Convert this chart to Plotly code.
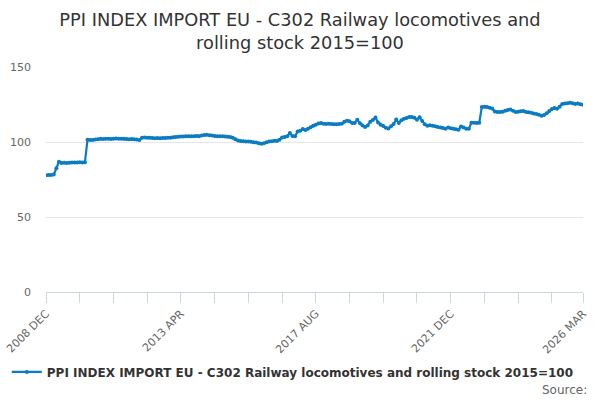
import pandas as pd
import plotly.graph_objects as go

title = "PPI INDEX IMPORT EU - C302 Railway locomotives and rolling stock 2015=100"

# monthly categories, 2008 DEC .. 2026 MAR
months = [d.strftime("%Y %b").upper() for d in pd.date_range("2008-12-01", "2026-03-01", freq="MS")]

# values, 10 per row
values = [
    77.8, 78.0, 78.0, 78.3, 82.5, 86.8, 86.0, 86.2, 86.0, 86.2,
    86.3, 86.4, 86.3, 86.5, 86.4, 86.5, 101.5, 101.3, 101.4, 101.6,
    101.8, 102.2, 102.0, 102.1, 102.2, 102.0, 102.1, 102.3, 102.2, 102.1,
    102.2, 102.0, 101.9, 102.0, 101.8, 101.6, 101.3, 102.9, 103.0, 102.8,
    102.9, 102.7, 102.5, 102.6, 102.5, 102.7, 102.6, 102.8, 102.9, 103.2,
    103.4, 103.5, 103.6, 103.7, 103.8, 103.9, 103.8, 103.9, 104.0, 103.8,
    104.3, 104.6, 104.8, 104.5, 104.3, 104.0, 103.9, 103.8, 103.8, 103.7,
    103.5, 103.3, 102.8, 101.8, 101.0, 100.6, 100.5, 100.3, 100.4, 100.2,
    99.9, 99.7, 99.2, 98.8, 99.2, 99.8, 100.3, 100.5, 100.8, 100.7,
    101.5, 103.0, 103.3, 103.8, 106.0, 104.0, 103.8, 107.0, 107.5, 108.6,
    108.0, 108.9, 109.8, 110.8, 111.5, 112.4, 112.6, 112.2, 112.0, 112.1,
    112.0, 111.9, 111.8, 112.0, 112.2, 113.5, 114.2, 113.9, 112.6, 112.7,
    114.8, 112.5, 111.0, 110.0, 111.0, 113.5, 114.6, 116.4, 113.0, 111.5,
    110.6, 109.5, 109.0, 110.5, 112.0, 115.0, 112.7, 114.5, 115.5, 116.0,
    116.6, 116.7, 116.2, 114.9, 116.5, 114.0, 111.8, 110.9, 111.1, 110.8,
    110.5, 110.0, 109.6, 109.3, 108.9, 109.6, 109.2, 108.9, 108.5, 108.2,
    110.4, 109.6, 108.9, 108.8, 112.9, 112.8, 112.7, 112.9, 123.3, 123.5,
    123.4, 122.9, 122.3, 120.4, 120.0, 120.0, 120.2, 120.9, 121.4, 121.6,
    120.8, 120.0, 120.1, 120.5, 120.7, 120.0, 119.8, 119.5, 119.0, 118.7,
    118.2, 117.5, 118.0, 119.2, 120.7, 122.0, 122.7, 122.2, 123.5, 125.3,
    125.6, 125.9, 126.2, 125.8, 125.3, 125.6, 125.2, 124.8,
]

x = list(range(len(months)))

# a tick every 13 months, label on every 4th tick, plus the last month
tick_idx = list(range(0, len(months) - 1, 13)) + [len(months) - 1]
tick_txt = [months[i] if (n % 4 == 0 or i == len(months) - 1) else "" for n, i in enumerate(tick_idx)]

fig = go.Figure()
fig.add_trace(go.Scatter(
    x=x, y=values, mode="lines+markers", name=title,
    line=dict(color="#0b7cc1", width=2.2),
    marker=dict(color="#0b7cc1", size=4),
    customdata=months,
    hovertemplate="%{customdata}: %{y}<extra></extra>",
))

fig.update_layout(
    width=600, height=400,
    plot_bgcolor="white", paper_bgcolor="white",
    font=dict(family="DejaVu Sans", color="#666666", size=11),
    margin=dict(l=46, r=17, t=67, b=108, autoexpand=False),
    title=dict(text="PPI INDEX IMPORT EU - C302 Railway locomotives and<br>rolling stock 2015=100",
               x=0.5, xanchor="center", y=0.935, yanchor="top",
               font=dict(size=17.8, color="#333333")),
    showlegend=True,
    legend=dict(orientation="h", xref="container", x=0.488, xanchor="center",
                y=-0.355, yanchor="middle",
                font=dict(size=12, color="#333333", weight="bold")),
    xaxis=dict(range=[0, len(months) - 1], tickvals=tick_idx, ticktext=tick_txt,
               tickangle=-45, showgrid=False, zeroline=False, automargin=False,
               showline=True, linecolor="#ccd6eb", linewidth=1,
               ticks="outside", ticklen=10, tickcolor="#ccd6eb",
               tickfont=dict(size=11, color="#666666")),
    yaxis=dict(range=[0, 150], tickvals=[0, 50, 100, 150], showgrid=True,
               gridcolor="#e6e6e6", zeroline=False, showline=False, automargin=False,
               ticklabelstandoff=14, tickfont=dict(size=11, color="#666666")),
    annotations=[dict(text="Source:", xref="paper", yref="paper", x=1.0, xanchor="right",
                      y=-0.435, yanchor="middle", showarrow=False,
                      font=dict(size=12, color="#666666"), xshift=6)],
)

fig.write_html("out.html", config={"displayModeBar": False},
               post_script="document.body.style.margin='0';")
